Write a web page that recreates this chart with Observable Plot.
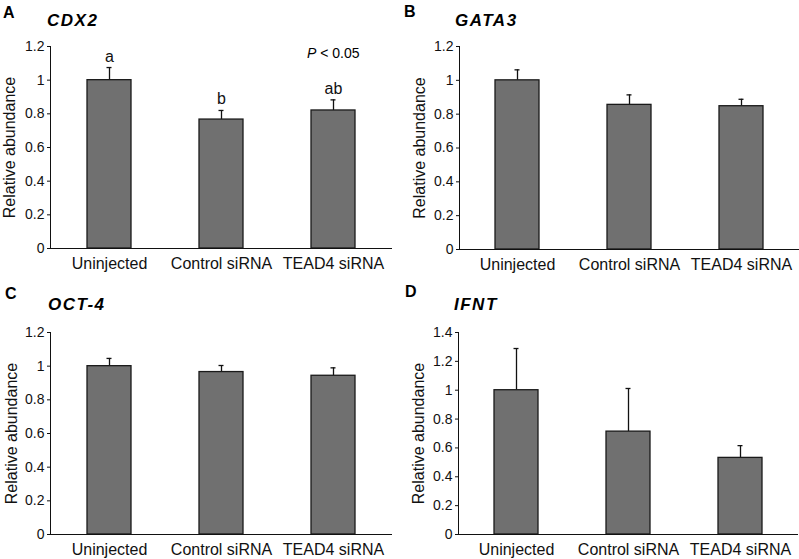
<!DOCTYPE html>
<html><head><meta charset="utf-8">
<script src="https://cdn.jsdelivr.net/npm/d3@7"></script>
<script src="https://cdn.jsdelivr.net/npm/@observablehq/plot@0.6"></script>
<style>
body{margin:0;background:#fff;}
#fig{position:relative;width:799px;height:559px;font-family:"Liberation Sans",Arial,sans-serif;overflow:hidden;background:#fff;color:#000;}
.panel{position:absolute;}
.tag{position:absolute;font-weight:bold;font-size:16px;line-height:1;white-space:nowrap;}
.gene{position:absolute;font-weight:bold;font-style:italic;font-size:17px;letter-spacing:1.5px;line-height:1;white-space:nowrap;}
.pval{position:absolute;font-size:14px;line-height:1;white-space:nowrap;}
</style></head><body><div id="fig"></div>
<script>
const categories = ["Uninjected", "Control siRNA", "TEAD4 siRNA"];
const cdx2Values = [1.0, 0.766, 0.82];
const cdx2Upper = [1.075, 0.82, 0.883];
const cdx2Letters = ["a", "b", "ab"];
const gata3Values = [1.0, 0.855, 0.847];
const gata3Upper = [1.062, 0.914, 0.888];
const oct4Values = [1.0, 0.965, 0.943];
const oct4Upper = [1.046, 1.004, 0.99];
const ifntValues = [1.0, 0.713, 0.531];
const ifntUpper = [1.289, 1.012, 0.616];
const yTicks12 = [0, 0.2, 0.4, 0.6, 0.8, 1, 1.2];
const yTicks14 = [0, 0.2, 0.4, 0.6, 0.8, 1, 1.2, 1.4];
const yLabel = "Relative abundance";
const panelTags = ["A", "B", "C", "D"];
const geneNames = ["CDX2", "GATA3", "OCT-4", "IFNT"];
const pText = "< 0.05";

const fig = document.getElementById("fig");
const FONT = '"Liberation Sans", Arial, sans-serif';

function panel(cfg) {
  const data = categories.map((c, i) => ({
    cat: c, value: cfg.values[i], upper: cfg.upper[i], letter: cfg.letters ? cfg.letters[i] : ""
  }));
  const marks = [
    Plot.ruleX(data, {x: "cat", y1: "value", y2: "upper", stroke: "#111", strokeWidth: 1.3}),
    Plot.tickY(data, {x: "cat", y: "upper", stroke: "#111", strokeWidth: 1.3, insetLeft: 19.5, insetRight: 19.5}),
    Plot.barY(data, {x: "cat", y: "value", fill: "#707070", stroke: "#1a1a1a", strokeWidth: 1.3}),
    Plot.ruleY([0], {stroke: "#111", strokeWidth: 1}),
    Plot.frame({anchor: "left", stroke: "#111", strokeWidth: 1}),
    Plot.axisY({ticks: cfg.ticks, tickFormat: d => String(d), tickSize: 3, tickPadding: 3,
      fontSize: 14, label: null}),
    Plot.text([yLabel], {frameAnchor: "left", rotate: -90, dx: -cfg.labelOffset, textAnchor: "middle",
      lineAnchor: "top", fontSize: 16, fill: "#111"}),
    Plot.axisX({tickSize: 0, tickPadding: 9, fontSize: 16, label: null})
  ];
  if (cfg.letters) {
    marks.push(Plot.text(data, {x: "cat", y: "upper", text: "letter", lineAnchor: "bottom", dy: -6, fontSize: 16, fill: "#111"}));
  }
  const p = Plot.plot({
    width: cfg.width, height: cfg.height,
    marginLeft: cfg.marginLeft, marginRight: cfg.marginRight,
    marginTop: cfg.marginTop, marginBottom: cfg.marginBottom,
    style: {fontFamily: FONT, color: "#111", background: "transparent", overflow: "visible"},
    x: {domain: categories, paddingInner: 0.608, paddingOuter: 0.32},
    y: {domain: [cfg.ticks[0], cfg.ticks[cfg.ticks.length - 1]]},
    marks
  });
  const wrap = document.createElement("div");
  wrap.className = "panel";
  wrap.style.left = cfg.left + "px";
  wrap.style.top = cfg.top + "px";
  wrap.appendChild(p);
  fig.appendChild(wrap);
}

function label(cls, text, left, top, html) {
  const d = document.createElement("div");
  d.className = cls;
  d.style.left = left + "px";
  d.style.top = top + "px";
  if (html) d.innerHTML = text; else d.textContent = text;
  fig.appendChild(d);
}

panel({values: cdx2Values, upper: cdx2Upper, letters: cdx2Letters, ticks: yTicks12,
  left: 0, top: 0, width: 400, height: 280, marginLeft: 50, marginRight: 8, marginTop: 46, marginBottom: 32, labelOffset: 47});
panel({values: gata3Values, upper: gata3Upper, ticks: yTicks12,
  left: 400, top: 0, width: 399, height: 280, marginLeft: 59, marginRight: 0, marginTop: 46, marginBottom: 31, labelOffset: 46});
panel({values: oct4Values, upper: oct4Upper, ticks: yTicks12,
  left: 0, top: 280, width: 400, height: 279, marginLeft: 50, marginRight: 8, marginTop: 52, marginBottom: 25, labelOffset: 45});
panel({values: ifntValues, upper: ifntUpper, ticks: yTicks14,
  left: 400, top: 280, width: 399, height: 279, marginLeft: 58, marginRight: 1, marginTop: 52, marginBottom: 25, labelOffset: 46});

label("tag", panelTags[0], 3, 5);
label("gene", geneNames[0], 47, 12);
label("tag", panelTags[1], 404, 4);
label("gene", geneNames[1], 455, 12);
label("tag", panelTags[2], 5, 285.5);
label("gene", geneNames[2], 48, 295.6);
label("tag", panelTags[3], 405, 284);
label("gene", geneNames[3], 454, 295.6);
label("pval", "<i>P</i> " + pText.replace("<", "&lt;"), 307, 46.4, true);
</script></body></html>
